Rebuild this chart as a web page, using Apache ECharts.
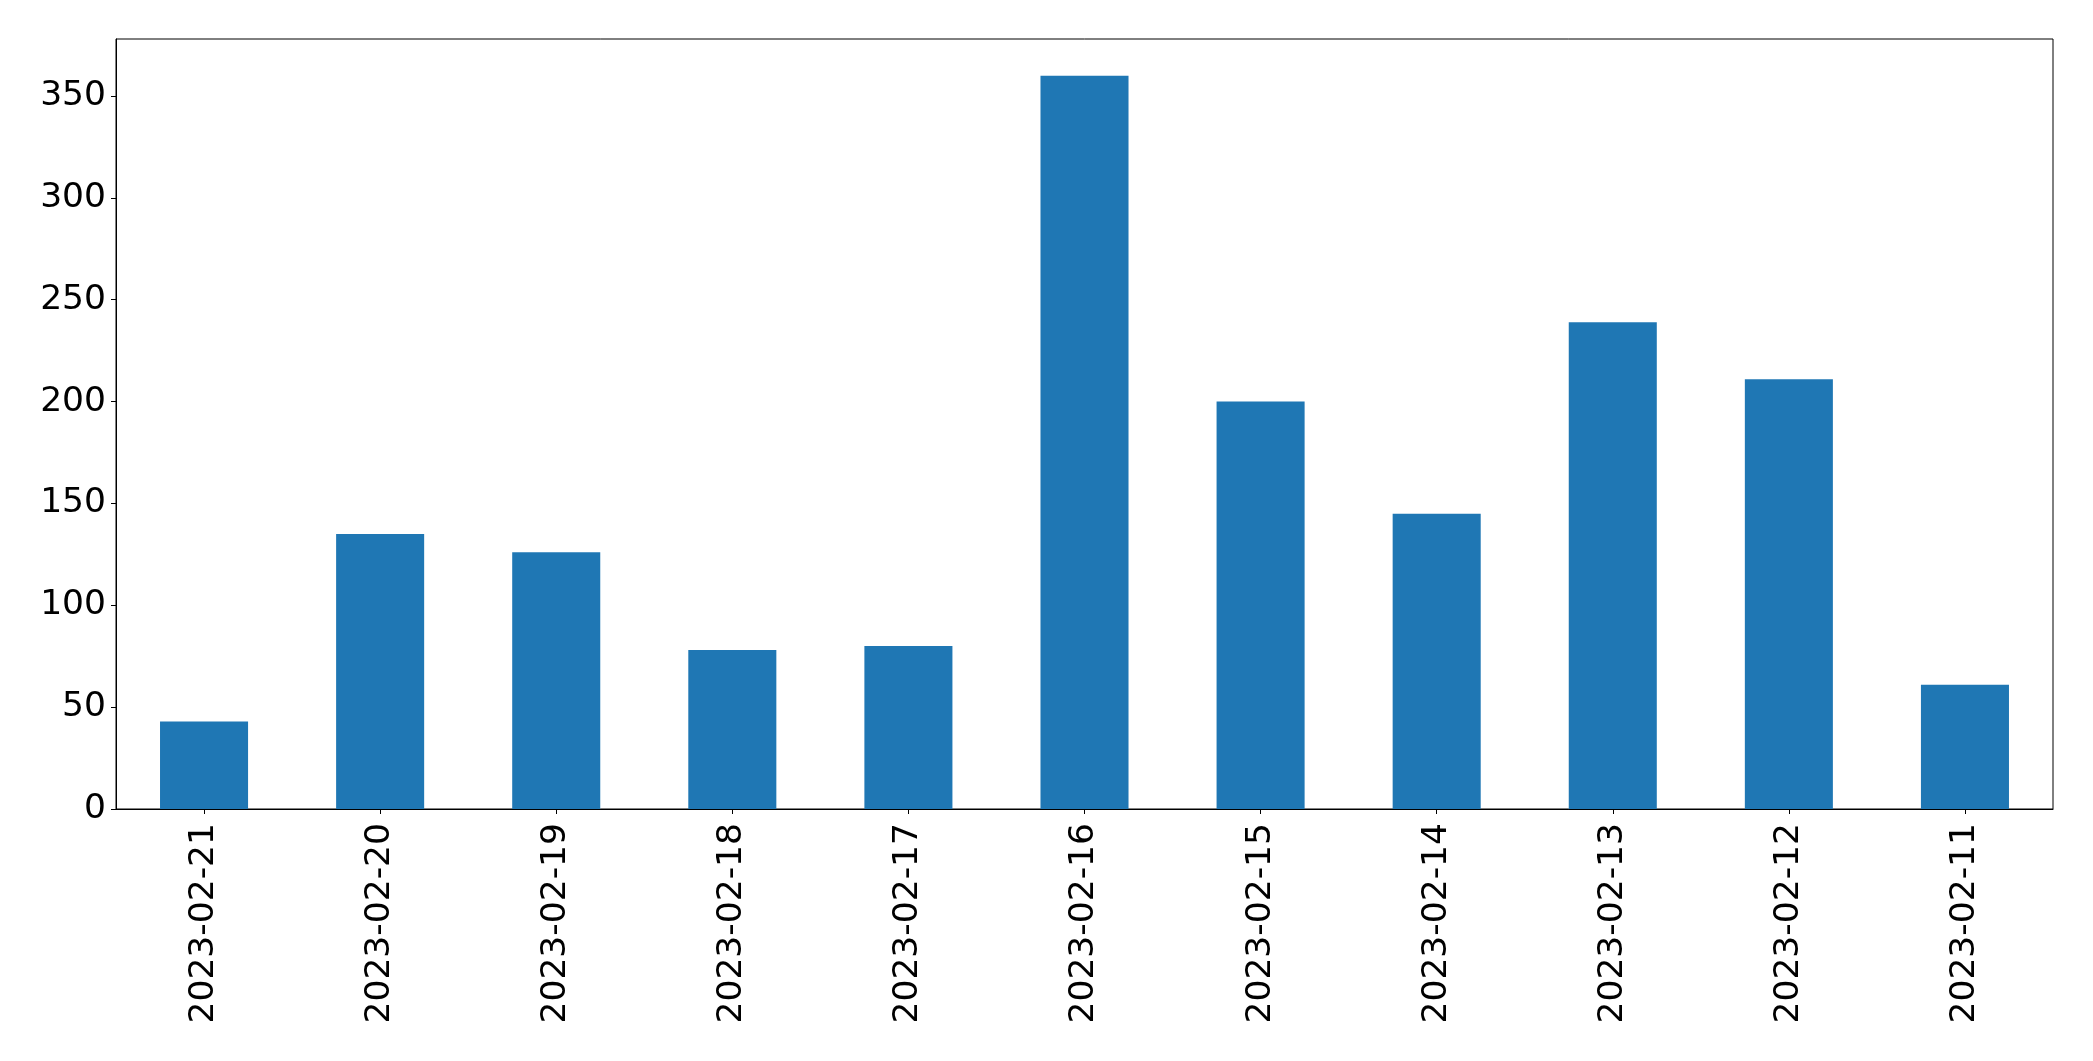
<!DOCTYPE html>
<html>
<head>
<meta charset="utf-8">
<script src="https://cdn.jsdelivr.net/npm/echarts@6/dist/echarts.min.js"></script>
<style>
html, body { margin: 0; padding: 0; background: #ffffff; }
#chart { width: 2093px; height: 1061px; }
</style>
</head>
<body>
<div id="chart"></div>
<script>
const categories = ['2023-02-21', '2023-02-20', '2023-02-19', '2023-02-18', '2023-02-17', '2023-02-16', '2023-02-15', '2023-02-14', '2023-02-13', '2023-02-12', '2023-02-11'];
const values = [43, 135, 126, 78, 80, 360, 200, 145, 239, 211, 61];
const yTicks = [0, 50, 100, 150, 200, 250, 300, 350];

const chart = echarts.init(document.getElementById('chart'), null, { renderer: 'canvas' });
const FONT = 'DejaVu Sans';
chart.setOption({
  animation: false,
  backgroundColor: '#ffffff',
  grid: {
    left: 116, top: 39, right: 40, bottom: 252,
    show: true, borderColor: '#000000', borderWidth: 1, backgroundColor: 'transparent'
  },
  xAxis: {
    type: 'category',
    data: categories,
    boundaryGap: true,
    axisLine: { show: true, lineStyle: { color: '#000000', width: 1 } },
    axisTick: { show: true, alignWithLabel: true, length: 5, lineStyle: { color: '#000000', width: 1 } },
    axisLabel: { rotate: 90, margin: 14, color: '#000000', fontFamily: FONT, fontSize: 34.5, interval: 0 },
    splitLine: { show: false }
  },
  yAxis: {
    type: 'value',
    min: 0,
    max: 378,
    interval: 50,
    axisLine: { show: true, lineStyle: { color: '#000000', width: 1 } },
    axisTick: { show: true, length: 5, customValues: yTicks, lineStyle: { color: '#000000', width: 1 } },
    axisLabel: { margin: 10, color: '#000000', fontFamily: FONT, fontSize: 34.5, customValues: yTicks },
    splitLine: { show: false }
  },
  series: [{
    type: 'bar',
    data: values,
    barWidth: '50%',
    itemStyle: { color: '#1f77b4' }
  }]
});
</script>
</body>
</html>
